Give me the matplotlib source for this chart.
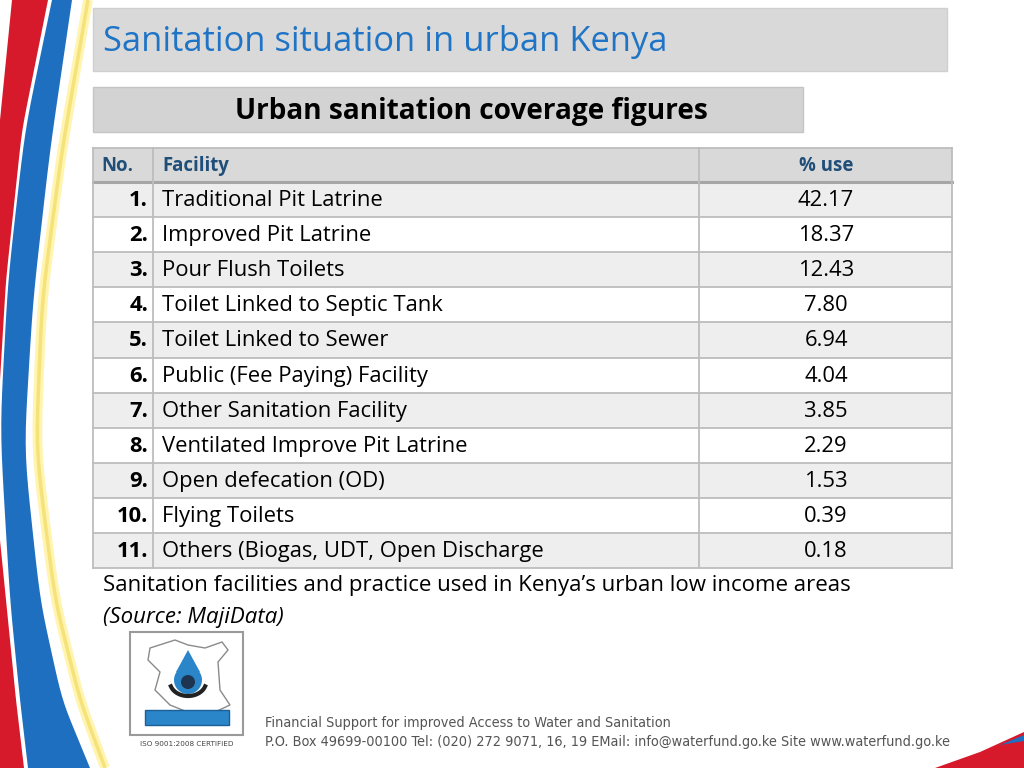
import numpy as np
import matplotlib
matplotlib.use("Agg")
import matplotlib.pyplot as plt
from matplotlib.patches import Rectangle, PathPatch, Circle, Polygon
from matplotlib.path import Path

# table data
nums = ["1.", "2.", "3.", "4.", "5.", "6.", "7.", "8.", "9.", "10.", "11."]
facilities = ["Traditional Pit Latrine", "Improved Pit Latrine", "Pour Flush Toilets",
              "Toilet Linked to Septic Tank", "Toilet Linked to Sewer",
              "Public (Fee Paying) Facility", "Other Sanitation Facility",
              "Ventilated Improve Pit Latrine", "Open defecation (OD)",
              "Flying Toilets", "Others (Biogas, UDT, Open Discharge"]
pct_use = ["42.17", "18.37", "12.43", "7.80", "6.94", "4.04", "3.85", "2.29", "1.53", "0.39", "0.18"]
headers = ["No.", "Facility", "% use"]

title = "Sanitation situation in urban Kenya"
subtitle = "Urban sanitation coverage figures"
caption = "Sanitation facilities and practice used in Kenya\u2019s urban low income areas"
source = "(Source: MajiData)"
footer1 = "Financial Support for improved Access to Water and Sanitation"
footer2 = "P.O. Box 49699-00100 Tel: (020) 272 9071, 16, 19 EMail: info@waterfund.go.ke Site www.waterfund.go.ke"

plt.rcParams['font.family'] = ['Open Sans', 'DejaVu Sans']

fig = plt.figure(figsize=(10.24, 7.68), dpi=100)
ax = fig.add_axes([0, 0, 1, 1])
ax.set_xlim(0, 1024)
ax.set_ylim(768, 0)
ax.axis("off")

# left decoration
def band(pts, color, z=0):
    codes = [Path.MOVETO] + [Path.LINETO] * (len(pts) - 1) + [Path.CLOSEPOLY]
    ax.add_patch(PathPatch(Path(pts + [pts[0]], codes), fc=color, ec="none", zorder=z))

def smooth(knots, n=60):
    k = np.array(knots, float)
    t = np.linspace(0, 1, len(k))
    tt = np.linspace(0, 1, n)
    xs = np.interp(tt, t, k[:, 0])
    ys = np.interp(tt, t, k[:, 1])
    for _ in range(6):
        xs[1:-1] = (xs[:-2] + xs[1:-1] * 2 + xs[2:]) / 4
        ys[1:-1] = (ys[:-2] + ys[1:-1] * 2 + ys[2:]) / 4
    return list(zip(xs, ys))

blue_r = smooth([(72, 0), (50, 150), (33, 300), (24, 450), (40, 600), (62, 700), (90, 768)])
blue_l = smooth([(52, 0), (25, 130), (8, 280), (0, 430), (10, 600), (20, 700), (28, 768)])
band(blue_r + blue_l[::-1], "#1e6fc0", 1)
red_top_r = smooth([(48, 0), (22, 130), (6, 280), (0, 380)])
band(red_top_r + [(0, 0)], "#d7192c", 1)
band([(0, 0), (12, 0), (0, 120)], "white", 2)
red_bot = smooth([(0, 540), (8, 620), (16, 700), (24, 768)])
band(red_bot + [(0, 768)], "#d7192c", 1)
yel = np.array(smooth([(88, 0), (62, 150), (42, 300), (36, 450), (55, 600), (80, 700), (105, 768)]))
ax.plot(yel[:, 0], yel[:, 1], color="#fff4b0", lw=7, zorder=0, solid_capstyle="butt")
ax.plot(yel[:, 0], yel[:, 1], color="#f6e27a", lw=2.5, zorder=0, solid_capstyle="butt")
# bottom right swoosh
band([(935, 768), (980, 752), (1024, 732), (1024, 768)], "#d7192c", 1)
band([(1000, 745), (1024, 735), (1024, 741)], "#1e6fc0", 1)

# title bar
ax.add_patch(Rectangle((93, 8), 854, 63, fc="#d9d9d9", ec="#cfcfcf", lw=1, zorder=2))
ax.text(103, 42, title, fontsize=24.8, color="#1f74c6", va="center", ha="left", zorder=3)

# subtitle bar
ax.add_patch(Rectangle((93, 87), 710, 45, fc="#d3d3d3", ec="#c4c4c4", lw=1, zorder=2))
ax.text(471, 112, subtitle, fontsize=20.2, fontweight="bold", color="black", va="center", ha="center", zorder=3)

# table
col_x = [93, 153, 699, 952]
row_top = 148
head_h = 34
row_h = 35.1
n = len(facilities)

ax.add_patch(Rectangle((col_x[0], row_top), col_x[-1] - col_x[0], head_h, fc="#d9d9d9", ec="none", zorder=2))
for i in range(n):
    y0 = row_top + head_h + i * row_h
    fc = "#eeeeee" if i % 2 == 0 else "white"
    ax.add_patch(Rectangle((col_x[0], y0), col_x[-1] - col_x[0], row_h, fc=fc, ec="none", zorder=2))

bottom = row_top + head_h + n * row_h
gc = "#bdbdbd"
for i in range(n + 1):
    y = row_top + head_h + i * row_h
    ax.plot([col_x[0], col_x[-1]], [y, y], color=gc, lw=1.3, zorder=3)
ax.plot([col_x[0], col_x[-1]], [row_top + head_h, row_top + head_h], color="#a6a6a6", lw=2.2, zorder=3)
ax.plot([col_x[0], col_x[-1]], [row_top, row_top], color=gc, lw=1.3, zorder=3)
for x in col_x:
    ax.plot([x, x], [row_top, bottom], color=gc, lw=1.3, zorder=3)

hc = "#1f4e79"
hy = row_top + head_h / 2 + 1
ax.text(101, hy, headers[0], fontsize=13.4, fontweight="bold", color=hc, va="center", ha="left", zorder=4)
ax.text(162, hy, headers[1], fontsize=13.4, fontweight="bold", color=hc, va="center", ha="left", zorder=4)
ax.text(826, hy, headers[2], fontsize=13.4, fontweight="bold", color=hc, va="center", ha="center", zorder=4)

for i in range(n):
    yc = row_top + head_h + i * row_h + row_h / 2 + 1
    ax.text(148, yc, nums[i], fontsize=15.8, fontweight="bold", color="black", va="center", ha="right", zorder=4)
    ax.text(162, yc, facilities[i], fontsize=15.8, color="black", va="center", ha="left", zorder=4)
    ax.text(826, yc, pct_use[i], fontsize=15.8, color="black", va="center", ha="center", zorder=4)

ax.text(103, 586, caption, fontsize=16, color="black", va="center", ha="left", zorder=4)
ax.text(103, 617, source, fontsize=16, style="italic", color="black", va="center", ha="left", zorder=4)

# logo
ax.add_patch(Rectangle((130, 632), 113, 103, fc="white", ec="#9a9a9a", lw=1.5, zorder=2))
kenya = [(150, 648), (175, 640), (188, 645), (205, 648), (222, 642), (228, 650), (218, 662),
         (220, 690), (230, 705), (215, 712), (190, 713), (170, 705), (155, 690), (160, 672), (148, 660)]
ax.add_patch(Polygon(kenya, closed=True, fc="white", ec="#8a8a8a", lw=1, zorder=3))
ax.add_patch(Circle((188, 680), 14, fc="#2a86c8", ec="none", zorder=4))
ax.add_patch(Polygon([(176, 672), (188, 650), (200, 672)], closed=True, fc="#2a86c8", ec="none", zorder=4))
ax.add_patch(Circle((188, 682), 7, fc="#1d3550", ec="none", zorder=5))
th = np.linspace(np.pi * 0.1, np.pi * 0.9, 30)
ax.plot(188 + 18 * np.cos(th), 682 + 14 * np.sin(th), color="#222222", lw=3, zorder=5)
ax.add_patch(Rectangle((145, 710), 84, 15, fc="#2a86c8", ec="#1b5f96", lw=1, zorder=5))
ax.text(187, 744, "ISO 9001:2008 CERTIFIED", fontsize=5.2, color="#444444", va="center", ha="center",
        family="DejaVu Sans", zorder=4)

# footer
ax.text(265, 723, footer1, fontsize=10.4, color="#555555", va="center", ha="left",
        family="DejaVu Sans", fontstretch="condensed", zorder=4)
ax.text(265, 742, footer2, fontsize=10.4, color="#555555", va="center", ha="left",
        family="DejaVu Sans", fontstretch="condensed", zorder=4)

fig.savefig("out.png", dpi=100, facecolor="white")
